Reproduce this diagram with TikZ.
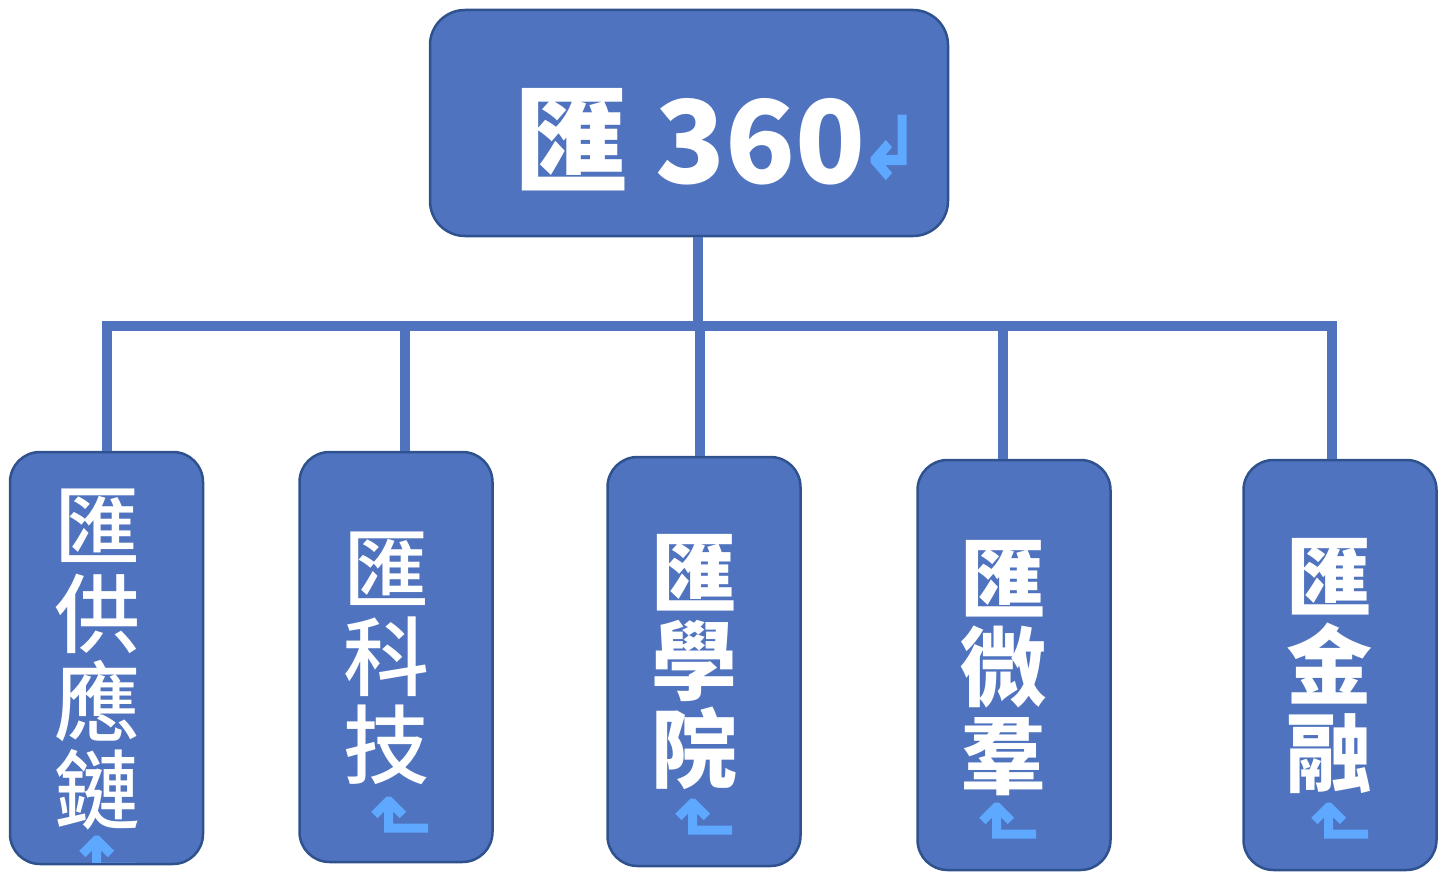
\documentclass[tikz,border=0pt]{standalone}
\usepackage{fontspec}
\newfontfamily\cjk{Noto Sans CJK TC}
\newfontfamily\cjkm{Noto Sans CJK TC Medium}
\newfontfamily\symf[FakeBold=4]{DejaVu Sans}
\usetikzlibrary{calc}
\definecolor{boxfill}{HTML}{4F73BE}
\definecolor{boxline}{HTML}{2F528F}
\definecolor{connc}{HTML}{4F73BE}
\definecolor{markc}{HTML}{5FA8FF}
\tikzset{
  topbox/.style={draw=boxline, fill=boxfill, line width=2.5pt, rounded corners=35pt, minimum width=518pt, minimum height=226pt, inner sep=0pt},
  subbox/.style={draw=boxline, fill=boxfill, line width=2.5pt, rounded corners=30pt, minimum width=193pt, minimum height=410pt, inner sep=0pt},
  conn/.style={draw=connc, line width=10pt},
  toptext/.style={text=white, font=\cjk\bfseries\fontsize{115}{115}\selectfont, inner sep=0pt},
  vtext/.style={text=white, align=center, inner sep=0pt, font=\cjkm\fontsize{86}{88}\selectfont},
  vtextb/.style={vtext, font=\cjk\bfseries\fontsize{86}{88}\selectfont},
  pmark/.style={text=markc, inner sep=0pt, font=\symf\fontsize{72}{72}\selectfont},
}
\begin{document}
\begin{tikzpicture}[x=1pt,y=-1pt]
\useasboundingbox (0,0) rectangle (1452,888);
% boxes
\node[topbox] (top) at (689,123) {};
\node[subbox, minimum height=412pt] (b1) at (106.5,658) {};
\node[subbox] (b2) at (396,657) {};
\node[subbox, minimum height=409pt] (b3) at (704,661.5) {};
\node[subbox] (b4) at (1014,665) {};
\node[subbox] (b5) at (1340,665) {};
% connectors
\coordinate (j0) at (698,326);
\coordinate (j2) at (405,326);
\coordinate (j3) at (700,326);
\coordinate (j4) at (1003,326);
\coordinate (j5) at (1332,326);
\draw[conn] (j0 |- top.south) -- (j0);
\draw[conn, line join=miter] (b1.north) |- (j5) -- (j5 |- b5.north);
\draw[conn] (j2) -- (j2 |- b2.north);
\draw[conn] (j3) -- (j3 |- b3.north);
\draw[conn] (j4) -- (j4 |- b4.north);
% texts
\node[toptext, anchor=base west] (t0) at (514,183) {匯 360};
\node[pmark, yscale=1.15] (m0) at (890,147) {↲};
\node[vtext] (t1) at (97,660) {匯\\供\\應\\鏈};
\node[vtext] (t2) at (386,658) {匯\\科\\技};
\node[vtextb] (t3) at (694,662) {匯\\學\\院};
\node[vtextb] (t4) at (1003,668) {匯\\微\\羣};
\node[vtextb] (t5) at (1329,666) {匯\\金\\融};
\begin{scope}
\clip (b1.north west) rectangle ($(b1.south east)+(0,-3)$);
\node[pmark, rotate=-90] (m1) at (108,855) {↲};
\end{scope}
\node[pmark, rotate=-90] (m2) at (400,816) {↲};
\node[pmark, rotate=-90] (m3) at (704,818) {↲};
\node[pmark, rotate=-90] (m4) at (1008,822) {↲};
\node[pmark, rotate=-90] (m5) at (1340,822) {↲};
\end{tikzpicture}
\end{document}
